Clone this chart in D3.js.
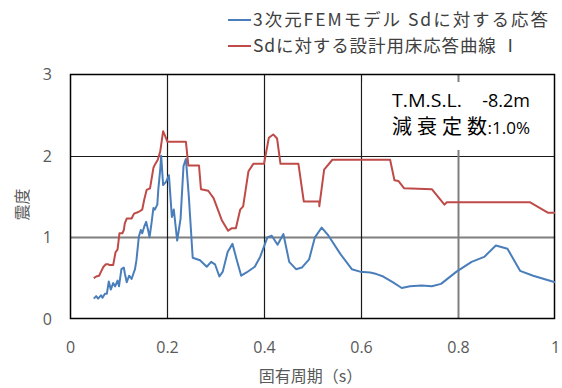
<!DOCTYPE html>
<html><head><meta charset="utf-8">
<script src="https://cdn.jsdelivr.net/npm/d3@7"></script>
<style>body{margin:0;background:#fff}svg{display:block}</style>
</head><body>
<script>
const seriesNames = ["3次元FEMモデル Sdに対する応答", "Sdに対する設計用床応答曲線 Ⅰ"];
const xTicks = [0, 0.2, 0.4, 0.6, 0.8, 1];
const xTickLabels = ["0", "0.2", "0.4", "0.6", "0.8", "1"];
const yTicks = [0, 1, 2, 3];
const yTickLabels = ["0", "1", "2", "3"];
const bluePeriod = [0.049,0.054,0.058,0.064,0.067,0.072,0.076,0.080,0.084,0.089,0.093,0.098,0.101,0.106,0.111,0.113,0.117,0.122,0.127,0.131,0.134,0.137,0.142,0.146,0.149,0.153,0.157,0.161,0.164,0.168,0.172,0.175,0.180,0.182,0.186,0.188,0.192,0.198,0.204,0.210,0.214,0.221,0.228,0.234,0.239,0.245,0.253,0.268,0.282,0.291,0.299,0.308,0.315,0.325,0.335,0.344,0.353,0.364,0.381,0.392,0.407,0.416,0.428,0.440,0.452,0.466,0.478,0.493,0.505,0.519,0.533,0.557,0.581,0.598,0.619,0.632,0.646,0.667,0.684,0.701,0.725,0.746,0.765,0.797,0.828,0.854,0.878,0.902,0.928,0.955,1.0];
const blueValue = [0.25,0.28,0.25,0.29,0.26,0.31,0.31,0.46,0.36,0.44,0.40,0.47,0.40,0.61,0.63,0.56,0.45,0.53,0.49,0.56,0.61,0.72,1.01,1.09,1.05,1.13,1.19,1.09,1.00,1.17,1.36,1.34,1.40,1.58,1.83,2.00,1.64,1.68,1.76,1.25,1.34,0.96,1.23,1.87,1.96,1.50,0.75,0.72,0.64,0.70,0.67,0.52,0.58,0.82,0.92,0.72,0.53,0.57,0.64,0.76,1.00,1.02,0.91,1.04,0.70,0.61,0.63,0.73,1.00,1.12,1.02,0.80,0.61,0.58,0.57,0.55,0.52,0.445,0.38,0.40,0.41,0.40,0.43,0.58,0.70,0.76,0.90,0.86,0.59,0.53,0.45];
const redPeriod = [0.049,0.054,0.060,0.064,0.069,0.074,0.079,0.082,0.089,0.094,0.098,0.102,0.108,0.111,0.113,0.117,0.127,0.132,0.141,0.149,0.153,0.158,0.165,0.172,0.175,0.181,0.186,0.192,0.201,0.239,0.244,0.266,0.270,0.285,0.296,0.313,0.326,0.333,0.342,0.351,0.357,0.368,0.378,0.400,0.410,0.419,0.427,0.434,0.471,0.482,0.514,0.514,0.524,0.541,0.660,0.669,0.677,0.689,0.746,0.772,0.777,0.948,0.986,1.0];
const redValue = [0.50,0.52,0.53,0.58,0.64,0.67,0.67,0.66,0.66,0.82,0.85,1.05,1.05,1.09,1.17,1.23,1.23,1.29,1.31,1.34,1.46,1.58,1.60,1.85,1.89,1.95,2.05,2.30,2.17,2.17,1.88,1.88,1.59,1.57,1.48,1.21,1.08,1.11,1.11,1.34,1.38,1.81,1.90,1.90,2.22,2.26,2.21,1.90,1.90,1.44,1.44,1.38,1.83,1.95,1.95,1.70,1.69,1.60,1.59,1.40,1.43,1.43,1.30,1.30];
const seriesColors = ["#4a7ebb", "#be4b48"];
const annotationLabel = ["T.M.S.L.", "減衰定数"];
const annotationValue = ["-8.2m", ":1.0%"];
const xTitle = "固有周期（s）";
const yTitle = "震度";

const W = 562, H = 388;
const L = 70, R = 555, T = 74, B = 319;
const font = "'Noto Sans CJK JP', 'Open Sans', sans-serif";
const latin = "'Open Sans', 'Noto Sans CJK JP', sans-serif";
const svg = d3.select("body").append("svg").attr("width", W).attr("height", H);
const x = d3.scaleLinear().domain([0, 1]).range([L, R]);
const y = d3.scaleLinear().domain([0, 3]).range([B, T]);

// grid
const grid = svg.append("g");
yTicks.slice(1, 3).forEach(v => {
  grid.append("line").attr("x1", L).attr("x2", R).attr("y1", Math.round(y(v)) + 0.5).attr("y2", Math.round(y(v)) + 0.5)
    .attr("stroke", v === 1 ? "#7f7f7f" : "#1a1a1a").attr("stroke-width", v === 1 ? 2 : 1.2);
});
xTicks.slice(1, 5).forEach(v => {
  grid.append("line").attr("y1", T).attr("y2", B).attr("x1", Math.round(x(v)) + 0.5).attr("x2", Math.round(x(v)) + 0.5)
    .attr("stroke", v === 0.8 ? "#7f7f7f" : "#1a1a1a").attr("stroke-width", v === 0.8 ? 2 : 1.2);
});

// annotation box (covers gridlines)
svg.append("rect").attr("x", x(0.6) + 1.5).attr("y", 82).attr("width", R - x(0.6) - 2.5).attr("height", 68).attr("fill", "#fff");
svg.append("text").attr("x", 392).attr("y", 107).attr("font-family", latin).attr("font-size", 18.5)
  .attr("textLength", 70).attr("lengthAdjust", "spacingAndGlyphs").text(annotationLabel[0]);
svg.append("text").attr("x", 530).attr("y", 107).attr("text-anchor", "end").attr("font-family", latin).attr("font-size", 18).text(annotationValue[0]);
svg.append("text").attr("x", 392).attr("y", 134).attr("font-family", font).attr("font-size", 20)
  .attr("textLength", 95).attr("lengthAdjust", "spacing").text(annotationLabel[1]);
svg.append("text").attr("x", 530).attr("y", 134).attr("text-anchor", "end").attr("font-family", latin).attr("font-size", 17).text(annotationValue[1]);

// border
svg.append("rect").attr("x", L + 0.5).attr("y", T + 0.5).attr("width", R - L - 1).attr("height", B - T - 1)
  .attr("fill", "none").attr("stroke", "#000").attr("stroke-width", 1.5);

// lines
const line = d3.line().x(d => x(d[0])).y(d => y(d[1]));
const blue = bluePeriod.map((p, i) => [p, blueValue[i]]);
const red = redPeriod.map((p, i) => [p, redValue[i]]);
[blue, red].forEach((data, i) => {
  svg.append("path").datum(data).attr("d", line).attr("fill", "none")
    .attr("stroke", seriesColors[i]).attr("stroke-width", 2).attr("stroke-linejoin", "round");
});

// axes
const xAxis = svg.append("g").attr("transform", `translate(0,${B + 31})`)
  .call(d3.axisBottom(x).tickValues(xTicks).tickFormat((d, i) => xTickLabels[i]).tickSize(0));
xAxis.select(".domain").remove();
xAxis.selectAll("text").attr("font-family", latin).attr("font-size", 16).attr("fill", "#595959").attr("dy", "0");
const yAxis = svg.append("g").attr("transform", `translate(${L - 18},0)`)
  .call(d3.axisLeft(y).tickValues(yTicks).tickFormat((d, i) => yTickLabels[i]).tickSize(0));
yAxis.select(".domain").remove();
yAxis.selectAll("text").attr("font-family", latin).attr("font-size", 16).attr("fill", "#595959").attr("x", 0).attr("text-anchor", "end").attr("dy", "0.35em");

// titles
svg.append("text").attr("x", (L + R) / 2 - 2).attr("y", 382).attr("text-anchor", "middle")
  .attr("font-family", font).attr("font-size", 16).attr("fill", "#595959").text(xTitle);
svg.append("text").attr("transform", `translate(28,${(T + B) / 2 + 8}) rotate(-90)`).attr("text-anchor", "middle")
  .attr("font-family", font).attr("font-size", 16).attr("fill", "#595959").text(yTitle);

// legend
const legendWidths = [295, 266];
const lg = svg.append("g");
seriesNames.forEach((n, i) => {
  const yy = 20 + i * 26;
  lg.append("line").attr("x1", 228).attr("x2", 251).attr("y1", yy).attr("y2", yy).attr("stroke", seriesColors[i]).attr("stroke-width", 2);
  lg.append("text").attr("x", 253).attr("y", yy).attr("dy", "0.35em").attr("font-family", font).attr("font-size", 17.5)
    .attr("textLength", legendWidths[i]).attr("lengthAdjust", "spacing").attr("fill", "#404040").text(n);
});
</script>
</body></html>
